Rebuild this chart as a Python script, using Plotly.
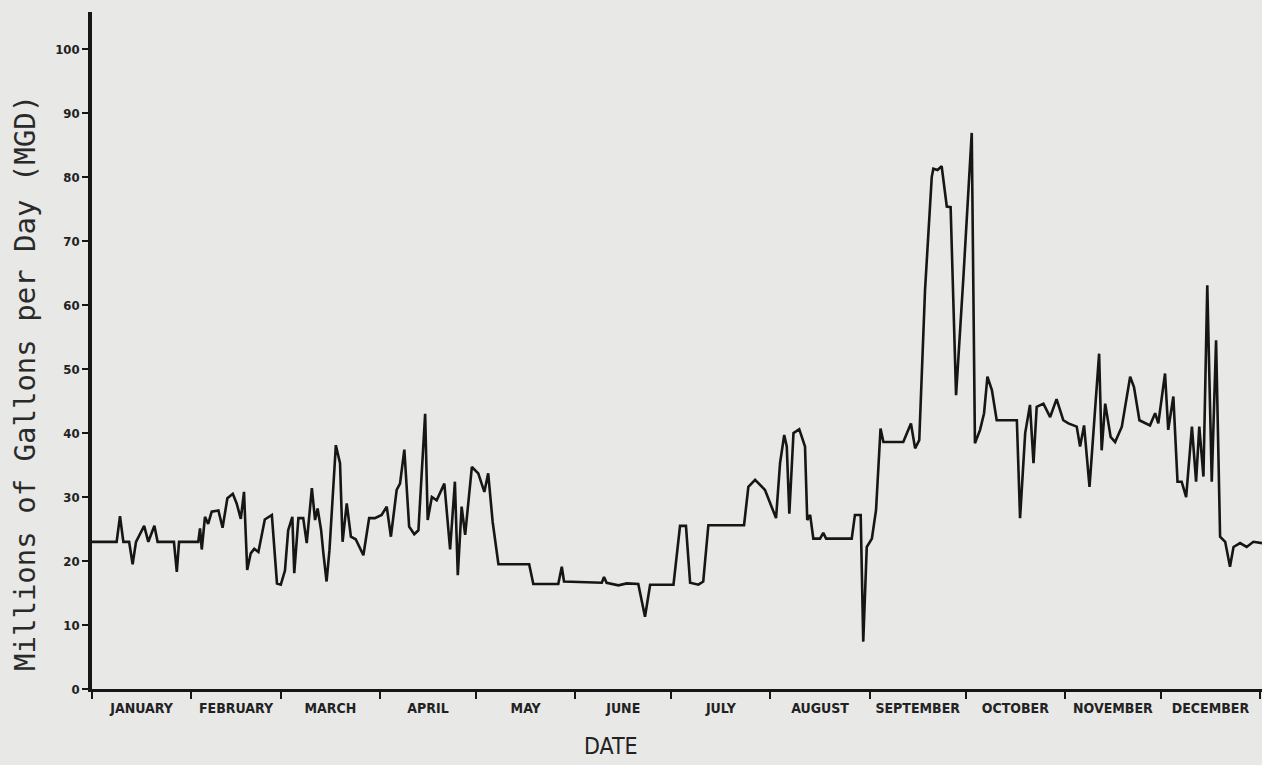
import plotly.graph_objects as go

# Daily flow record, day of year vs. millions of gallons per day
day = [
    0, 7.7, 8.75, 9.8, 11.6, 12.7, 13.75, 16.3, 17.6, 19.5, 20.5, 25.6, 26.5, 27.2, 33.2,
    33.75, 34.3, 35.3, 36.3, 37.4, 39.5, 40.8, 42.3, 44, 45.2, 46.5, 47.5, 48.5, 49.6,
    50.7, 52, 54, 56.2, 57.8, 59, 60.3, 61.3, 62.6, 63.2, 64.5, 66, 67.1, 68.7, 69.7,
    70.5, 71.6, 72.3, 73.3, 74.2, 76.2, 77.5, 78.3, 79.6, 80.9, 82.4, 84.8, 86.6, 88.4,
    90.5, 92.1, 93.4, 95.2, 96.25, 97.6, 99.1, 100.7, 102, 104.1, 104.9, 106.2, 107.7,
    110.1, 111.9, 113.4, 114.3, 115.5, 116.6, 118.7, 120.7, 122.6, 123.8, 125.2, 127,
    136.6, 137.9, 145.7, 146.8, 147.5, 159.3, 160, 160.8, 164.5, 167.1, 170.7, 172.8,
    174.4, 181.7, 183.75, 185.6, 186.9, 189.5, 191, 192.6, 203.75, 205.1, 207.2, 210.3,
    212.4, 213.75, 215, 216.3, 217.1, 217.9, 219.2, 221, 222.8, 223.5, 224.4, 225.4,
    227.5, 228.5, 229.4, 237.4, 238.4, 240.2, 241, 242.1, 243.7, 245, 246.4, 247.3,
    253.5, 255.9, 257.2, 258.5, 260.3, 262.4, 262.9, 264.2, 265.5, 267.1, 268.3, 270,
    272.3, 274.9, 275.9, 277.5, 278.75, 279.8, 281.2, 282.7, 289, 290, 291.6, 293.1,
    294.2, 295.2, 297.3, 299.4, 301.4, 303.5, 305.1, 307.7, 308.75, 310, 311.7, 313.4,
    314.7, 315.5, 316.6, 318.3, 319.7, 321.8, 324.4, 325.6, 327.3, 330.6, 332.2, 333.2,
    335.3, 336.3, 337.9, 339.2, 340.5, 341.9, 343.7, 345, 346, 347.3, 348.5, 349.9,
    351.25, 352.5, 354.1, 355.6, 356.7, 358.75, 360.8, 362.9, 365.6,
]
mgd = [
    23, 23, 27, 23, 23, 19.5, 23, 25.5, 23, 25.5, 23, 23, 18.3, 23, 23,
    25.1, 21.8, 26.9, 25.8, 27.7, 27.9, 25.2, 29.8, 30.5, 29, 26.6, 30.8, 18.6, 21.2,
    21.9, 21.4, 26.5, 27.2, 16.5, 16.3, 18.5, 24.8, 26.9, 18.1, 26.7, 26.7, 22.8, 31.4, 26.4,
    28.2, 24.8, 21.2, 16.8, 21.7, 38.1, 35.3, 23, 29, 23.8, 23.4, 20.9, 26.7, 26.7,
    27.2, 28.5, 23.8, 31.1, 32.1, 37.4, 25.4, 24.2, 24.8, 43, 26.4, 30, 29.5,
    32.1, 21.8, 32.4, 17.8, 28.5, 24.1, 34.7, 33.7, 30.8, 33.7, 26.1, 19.5,
    19.5, 16.4, 16.4, 19.1, 16.8, 16.6, 17.5, 16.6, 16.2, 16.5, 16.4, 11.3,
    16.3, 16.3, 25.5, 25.5, 16.6, 16.3, 16.8, 25.6, 25.6, 31.6, 32.7, 31.1,
    28.5, 26.7, 35.3, 39.7, 37.9, 27.4, 40, 40.6, 37.9, 26.4, 27.2, 23.5,
    23.5, 24.4, 23.5, 23.5, 27.2, 27.2, 7.4, 22.2, 23.5, 28, 40.7, 38.6,
    38.6, 41.5, 37.6, 38.9, 62.3, 80, 81.3, 81.1, 81.7, 75.4, 75.3, 45.9,
    64.4, 86.9, 38.4, 40.5, 43.1, 48.8, 46.7, 42, 42, 26.7, 40, 44.4,
    35.3, 44.1, 44.6, 42.5, 45.3, 42, 41.5, 41, 37.9, 41.2, 31.6, 43.6,
    52.4, 37.3, 44.6, 39.4, 38.6, 41, 48.8, 47.2, 42, 41.2, 43.1, 41.5,
    49.3, 40.5, 45.7, 32.4, 32.4, 30, 41, 32.4, 41, 33.2, 63.1, 32.4,
    54.5, 23.8, 23, 19.1, 22.2, 22.8, 22.2, 23, 22.8,
]

months = ["JANUARY", "FEBRUARY", "MARCH", "APRIL", "MAY", "JUNE", "JULY",
          "AUGUST", "SEPTEMBER", "OCTOBER", "NOVEMBER", "DECEMBER"]
month_edges = [0, 31, 59, 90, 120, 151, 181, 212, 243, 273, 304, 334, 365]
y_ticks = [0, 10, 20, 30, 40, 50, 60, 70, 80, 90, 100]

month_mid = [(a + b) / 2 for a, b in zip(month_edges[:-1], month_edges[1:])]

paper = "#e8e8e6"
ink = "#161616"
label_font = "Liberation Sans Narrow, DejaVu Sans Condensed, Roboto, Arial, sans-serif"

fig = go.Figure()
fig.add_trace(go.Scatter(
    x=day, y=mgd, mode="lines",
    line=dict(color=ink, width=2.6),
    hoverinfo="skip", showlegend=False,
))

fig.update_layout(
    width=1262, height=765,
    margin=dict(l=92, r=0, t=12, b=76),
    paper_bgcolor=paper, plot_bgcolor=paper,
    xaxis=dict(
        range=[0, 365.6], showgrid=False, zeroline=False,
        showline=True, linecolor=ink, linewidth=2.5,
        tickmode="array", tickvals=month_mid, ticktext=months,
        ticks="", ticklabelstandoff=4,
        tickfont=dict(family=label_font, size=14, color="#222", weight="bold"),
        minor=dict(tickmode="array", tickvals=month_edges, ticks="outside",
                   ticklen=7, tickwidth=2, tickcolor=ink),
    ),
    yaxis=dict(
        range=[0, 105.8], showgrid=False, zeroline=False,
        showline=True, linecolor=ink, linewidth=3.5,
        tickmode="array", tickvals=y_ticks,
        ticks="outside", ticklen=6, tickwidth=2, tickcolor=ink,
        ticklabelstandoff=0,
        tickfont=dict(family=label_font, size=13, color="#222", weight="bold"),
    ),
    annotations=[
        dict(
            text="Millions of Gallons per Day (MGD)",
            xref="paper", yref="paper", x=-0.0573, y=0.452,
            xanchor="center", yanchor="middle", textangle=-90, showarrow=False,
            font=dict(family="DejaVu Sans Mono, Liberation Mono, monospace",
                      size=29, color="#2a2a2a"),
        ),
        dict(
            text="DATE",
            xref="paper", yref="paper", x=0.4436, y=-0.084,
            xanchor="center", yanchor="middle", showarrow=False,
            font=dict(family=label_font, size=23, color="#222"),
        ),
    ],
)

fig.write_html("out.html")
